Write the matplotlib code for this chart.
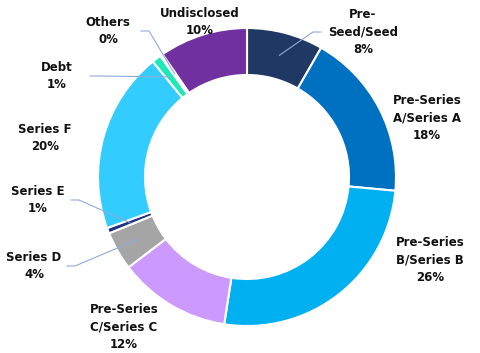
import numpy as np
import matplotlib.pyplot as plt

labels = ['Pre-\nSeed/Seed', 'Pre-Series\nA/Series A', 'Pre-Series\nB/Series B',
          'Pre-Series\nC/Series C', 'Series D', 'Series E', 'Series F',
          'Debt', 'Others', 'Undisclosed']
shares = [8.3, 18.2, 26.0, 12.2, 4.2, 0.6, 19.7, 1.0, 0.3, 9.6]
colors = ['#1F3864', '#0070C0', '#00B0F0', '#CC99FF', '#A5A5A5',
          '#1F3380', '#33CCFF', '#1DE9B6', '#FFFFFF', '#7030A0']

# text positions in pixels (x, y from top), and whether a leader line is drawn
text_pos = [(363, 32), (427, 118), (430, 260), (124, 327), (34, 266),
            (38, 200), (45, 138), (57, 76), (108, 31), (200, 22)]
leader = [True, False, False, False, True, True, False, True, True, False]

W, H = 480, 353
cx, cy, R = 247, 176, 149

fig = plt.figure(figsize=(4.8, 3.53), dpi=100)
ax = fig.add_axes([0, 0, 1, 1])

wedges, _ = ax.pie(shares, colors=colors, startangle=90, counterclock=False,
                   center=(cx, cy), radius=R,
                   wedgeprops=dict(width=47, edgecolor='white', linewidth=1.5))
# pie resets the limits, so set them afterwards
ax.set_xlim(0, W)
ax.set_ylim(0, H)
ax.set_aspect('equal')
ax.axis('off')

for w, lab, val, (tx, ty), ld in zip(wedges, labels, shares, text_pos, leader):
    ax.text(tx, H - ty, f'{lab}\n{round(val)}%', ha='center', va='center',
            fontsize=8.5, fontweight='bold', color='#111111', linespacing=1.42)
    if ld:
        ang = np.deg2rad((w.theta1 + w.theta2) / 2)
        rr = R - 23
        px, py = cx + rr * np.cos(ang), cy + rr * np.sin(ang)
        if tx < cx:
            sx = tx + 33
        else:
            sx = tx - 42
        sy = H - ty
        ax.plot([sx, sx + (8 if tx < cx else -8), px], [sy, sy, py],
                color='#8FAADC', lw=0.8, zorder=3)

fig.savefig('out.png', dpi=100)
